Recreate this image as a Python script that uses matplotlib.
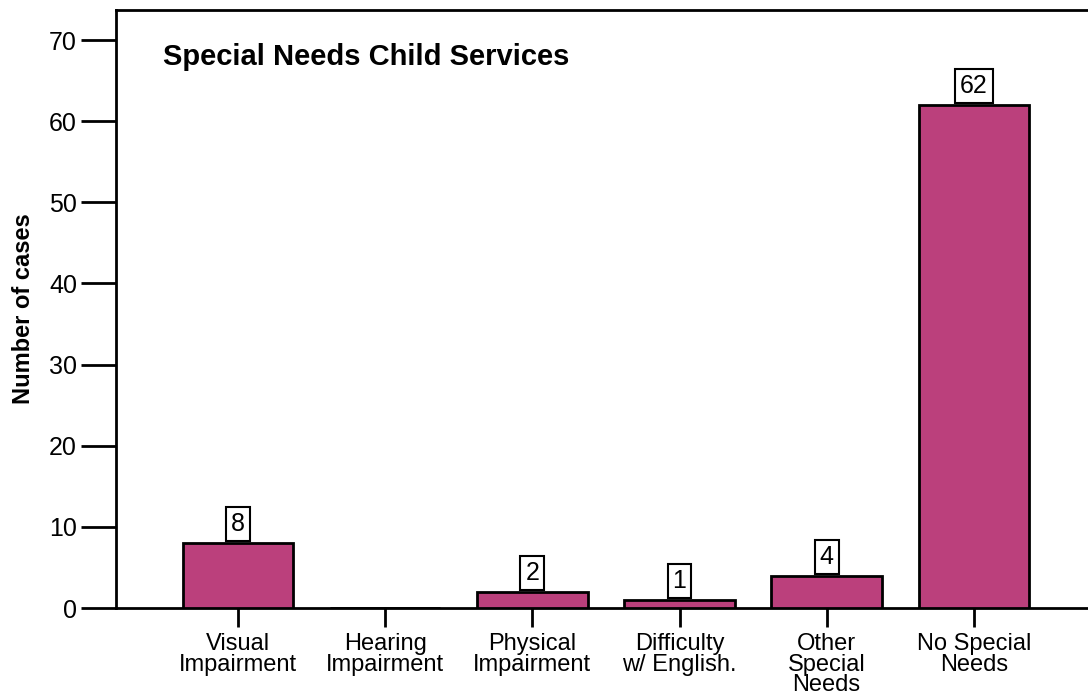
import matplotlib
matplotlib.use("Agg")
import matplotlib.pyplot as plt
from matplotlib import font_manager

categories = ["Visual\nImpairment", "Hearing\nImpairment", "Physical\nImpairment",
              "Difficulty\nw/ English.", "Other\nSpecial\nNeeds", "No Special\nNeeds"]
cases = [8, 0, 2, 1, 4, 62]
y_ticks = [0, 10, 20, 30, 40, 50, 60, 70]

plt.rcParams['font.family'] = ['Liberation Sans', 'DejaVu Sans']

# police étroite pour le titre de l'axe y, si elle existe
narrow = 'Liberation Sans Narrow'
noms = {f.name for f in font_manager.fontManager.ttflist}
if narrow not in noms:
    narrow = 'Liberation Sans'

fig = plt.figure(figsize=(10.88, 7.0), dpi=100)
ax = fig.add_axes([116 / 1088, 92 / 700, 1 - 116 / 1088 + 0.01, 598 / 700])

pos = list(range(len(categories)))
ax.bar(pos, cases, width=0.75, color='#bb407c', edgecolor='black', linewidth=2, zorder=3)

for x, v in zip(pos, cases):
    if v == 0:
        continue
    ax.annotate(str(v), xy=(x, v), xytext=(0, 5), textcoords='offset points',
                ha='center', va='bottom', fontsize=18, zorder=4,
                bbox=dict(boxstyle='square,pad=0.2', fc='white', ec='black', lw=1.5))

ax.set_xlim(-0.83, 5.85)
ax.set_ylim(0, 73.7)
ax.set_yticks(y_ticks)
ax.set_xticks(pos)
ax.set_xticklabels(categories, fontsize=17, linespacing=0.92)
ax.tick_params(axis='y', labelsize=18, length=25, width=2, direction='out', pad=3)
ax.tick_params(axis='x', length=14, width=2, direction='out', pad=4)

for s in ['left', 'top', 'bottom']:
    ax.spines[s].set_linewidth(2)
ax.spines['right'].set_visible(False)

ax.set_ylabel("Number of cases", fontsize=17, fontweight='bold', family=narrow, labelpad=10)
ax.text(163 / 1088, 1 - 57 / 700, "Special Needs Child Services", transform=fig.transFigure,
        fontsize=21, fontweight='bold', ha='left', va='center')

fig.savefig("out.png", dpi=100)
